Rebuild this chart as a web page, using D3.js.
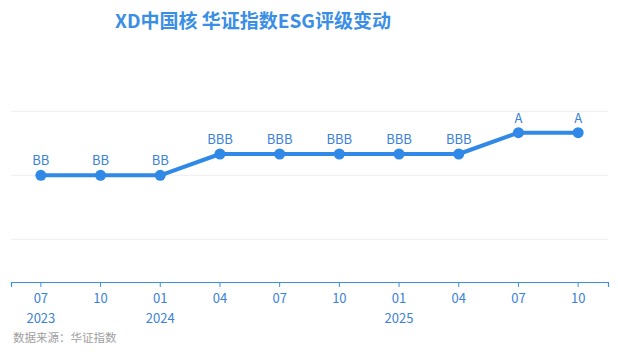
<!DOCTYPE html>
<html>
<head>
<meta charset="utf-8">
<script src="https://cdn.jsdelivr.net/npm/d3@7"></script>
<style>
  body { margin: 0; background: #fff; }
  text { font-family: "Noto Sans CJK SC", "Noto Sans", sans-serif; }
</style>
</head>
<body>
<div id="chart"></div>
<script>
const months = ["07", "10", "01", "04", "07", "10", "01", "04", "07", "10"];
const years = ["2023", "", "2024", "", "", "", "2025", "", "", ""];
const ratings = ["BB", "BB", "BB", "BBB", "BBB", "BBB", "BBB", "BBB", "A", "A"];
// rating ladder, lowest first
const ladder = ["C", "CC", "CCC", "B", "BB", "BBB", "A", "AA", "AAA"];
const gridValues = [2, 5, 8];

const W = 618, H = 355;
const margin = { top: 90, right: 10, bottom: 73, left: 11 };
const width = W - margin.left - margin.right;
const height = H - margin.top - margin.bottom;

const svg = d3.select("#chart")
  .append("svg")
  .attr("width", W)
  .attr("height", H);

// Title
svg.append("text")
  .attr("x", 253)
  .attr("y", 28)
  .attr("text-anchor", "middle")
  .attr("font-size", 19)
  .attr("font-weight", "bold")
  .attr("fill", "#3a8ee6")
  .text("XD中国核 华证指数ESG评级变动");

const g = svg.append("g")
  .attr("transform", "translate(" + margin.left + "," + margin.top + ")");

const idx = months.map((d, i) => i);

const xScale = d3.scaleBand()
  .domain(idx)
  .range([0, width]);

const yScale = d3.scaleLinear()
  .domain([0, 9])
  .range([height, 0]);

const score = r => ladder.indexOf(r) + 1;
const cx = i => xScale(i) + xScale.bandwidth() / 2;

// Gridlines
g.append("g")
  .selectAll("line")
  .data(gridValues)
  .enter().append("line")
  .attr("x1", 0)
  .attr("x2", width)
  .attr("y1", d => yScale(d))
  .attr("y2", d => yScale(d))
  .attr("stroke", "#eeeeee")
  .attr("stroke-width", 1);

// X axis
const xAxis = d3.axisBottom(xScale)
  .tickSize(5)
  .tickFormat(i => months[i]);

const xAxisDrawn = g.append("g")
  .attr("transform", "translate(0," + height + ")")
  .call(xAxis);

xAxisDrawn.select(".domain").attr("stroke", "#3a8ee6").attr("stroke-width", 1.2);
xAxisDrawn.selectAll(".tick line").attr("stroke", "#3a8ee6");
xAxisDrawn.selectAll(".tick text")
  .attr("fill", "#3b82d6")
  .attr("font-size", 13)
  .attr("y", 21)
  .attr("dy", null);

xAxisDrawn.selectAll(".tick")
  .append("text")
  .attr("y", 41)
  .attr("fill", "#3b82d6")
  .attr("font-size", 13)
  .attr("text-anchor", "middle")
  .text(i => years[i]);

// Line
const line = d3.line()
  .x((d, i) => cx(i))
  .y(d => yScale(score(d)));

g.append("path")
  .datum(ratings)
  .attr("d", line)
  .attr("fill", "none")
  .attr("stroke", "#3089e6")
  .attr("stroke-width", 4)
  .attr("stroke-linejoin", "round");

g.selectAll(".pt")
  .data(ratings)
  .enter().append("circle")
  .attr("class", "pt")
  .attr("cx", (d, i) => cx(i))
  .attr("cy", d => yScale(score(d)))
  .attr("r", 5.5)
  .attr("fill", "#3089e6");

// Labels
g.selectAll(".lbl")
  .data(ratings)
  .enter().append("text")
  .attr("class", "lbl")
  .attr("x", (d, i) => cx(i))
  .attr("y", d => yScale(score(d)) - 10)
  .attr("text-anchor", "middle")
  .attr("font-size", 13)
  .attr("fill", "#3b82d6")
  .text(d => d);

// Source
svg.append("text")
  .attr("x", 13)
  .attr("y", 342)
  .attr("font-size", 11.5)
  .attr("fill", "#a0a0a0")
  .text("数据来源：华证指数");
</script>
</body>
</html>
